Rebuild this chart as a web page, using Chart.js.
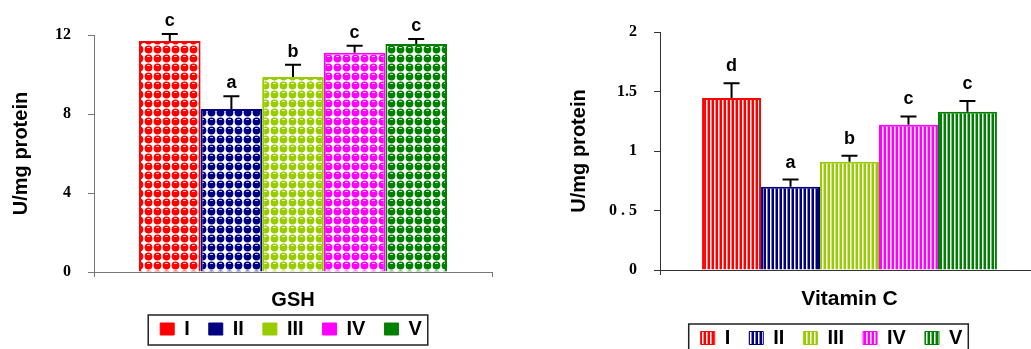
<!DOCTYPE html>
<html>
<head>
<meta charset="utf-8">
<script src="https://cdn.jsdelivr.net/npm/chart.js@4.4.0/dist/chart.umd.min.js"></script>
<style>
    html, body { margin: 0; padding: 0; background: #fff; overflow: hidden; width: 1031px; height: 349px; }
    #gshBox { position: absolute; left: 0; top: 0; width: 540px; height: 361px; }
    #vitBox { position: absolute; left: 540px; top: 0; width: 505px; height: 358px; }
</style>
</head>
<body>
<div id="gshBox"><canvas id="gshChart"></canvas></div>
<div id="vitBox"><canvas id="vitChart"></canvas></div>
<script>
/* ── data ── */
const groups  = ['I', 'II', 'III', 'IV', 'V'];
const colors  = ['#ff0000', '#000080', '#99cc00', '#ff00ff', '#008000'];

const gshCategory = ['GSH'];
const gshMean     = [11.7, 8.25, 9.87, 11.1, 11.55];
const gshErr      = [0.35, 0.65, 0.63, 0.35, 0.25];
const gshLetters  = ['c', 'a', 'b', 'c', 'c'];
const gshTicks    = [0, 4, 8, 12];

const vitCategory = ['Vitamin C'];
const vitMean     = [1.445, 0.70, 0.91, 1.22, 1.33];
const vitErr      = [0.125, 0.06, 0.05, 0.07, 0.09];
const vitLetters  = ['d', 'a', 'b', 'c', 'c'];
const vitTicks    = [0, 0.5, 1, 1.5, 2];
const vitTickText = ['0', '0 . 5', '1', '1.5', '2'];

const SANS  = 'Liberation Sans';
const SERIF = 'Liberation Serif';

/* ── fill patterns ── */
function dotPattern(color) {
    const c = document.createElement('canvas');
    c.width = 9; c.height = 9;
    const g = c.getContext('2d');
    g.fillStyle = '#fff'; g.fillRect(0, 0, 9, 9);
    g.fillStyle = color;
    g.beginPath(); g.arc(4.5, 4.5, 3.9, 0, Math.PI * 2); g.fill();
    g.fillStyle = 'rgba(255,255,255,0.75)'; g.fillRect(3, 2, 3, 1);
    return g.createPattern(c, 'repeat');
}
function stripePattern(color) {
    const c = document.createElement('canvas');
    c.width = 4; c.height = 4;
    const g = c.getContext('2d');
    g.fillStyle = color; g.fillRect(0, 0, 4, 4);
    g.fillStyle = '#fff'; g.fillRect(2, 0, 1, 4);
    g.fillStyle = 'rgba(255,255,255,0.5)'; g.fillRect(3, 0, 1, 4);
    return g.createPattern(c, 'repeat');
}

/* ── error bars, letters, legend frame ── */
const extras = {
    id: 'extras',
    afterLayout(chart, args, opts) {
        const lg = chart.legend;
        lg.left += opts.legendDx; lg.right += opts.legendDx;
        lg.top += opts.legendDy; lg.bottom += opts.legendDy;
    },
    afterDatasetsDraw(chart, args, opts) {
        const { ctx } = chart;
        const y = chart.scales.y;
        ctx.save();
        ctx.strokeStyle = '#000'; ctx.lineWidth = 2;
        ctx.fillStyle = '#000';
        ctx.font = `bold 18px "${SANS}"`;
        ctx.textAlign = 'center'; ctx.textBaseline = 'middle';
        chart.data.datasets.forEach((ds, i) => {
            const bar = chart.getDatasetMeta(i).data[0];
            const top = y.getPixelForValue(ds.data[0] + ds.errUp);
            ctx.beginPath();
            ctx.moveTo(bar.x, bar.y); ctx.lineTo(bar.x, top);
            ctx.moveTo(bar.x - 8, top); ctx.lineTo(bar.x + 8, top);
            ctx.stroke();
            ctx.fillText(ds.letter, bar.x, top - opts.letterGap);
        });
        ctx.restore();
    },
    afterDraw(chart, args, opts) {
        const hb = chart.legend.legendHitBoxes;
        if (!hb || !hb.length) return;
        const l = Math.min(...hb.map(h => h.left));
        const r = Math.max(...hb.map(h => h.left + h.width));
        const cy = hb[0].top + hb[0].height / 2;
        const { ctx } = chart;
        ctx.save();
        ctx.strokeStyle = '#222'; ctx.lineWidth = 1.5;
        ctx.strokeRect(l - 12, cy - 14, r - l + 18, 30);
        ctx.restore();
    }
};

function makeChart(id, cfg) {
    const datasets = groups.map((g, i) => ({
        label: g,
        data: [cfg.mean[i]],
        errUp: cfg.err[i],
        letter: cfg.letters[i],
        backgroundColor: cfg.pattern(colors[i]),
        borderColor: colors[i],
        borderWidth: 2,
        borderSkipped: 'start',
        categoryPercentage: cfg.catPct,
        barPercentage: 1
    }));

    return new Chart(document.getElementById(id).getContext('2d'), {
        type: 'bar',
        data: { labels: cfg.category, datasets },
        options: {
            responsive: true, maintainAspectRatio: false, animation: false,
            layout: { padding: cfg.padding },
            plugins: {
                tooltip: { enabled: false },
                legend: {
                    position: 'bottom', fullSize: false,
                    labels: {
                        boxWidth: 14, boxHeight: cfg.boxH, padding: 19, color: '#000',
                        font: { family: SANS, weight: 'bold', size: 20 },
                        generateLabels: ch => Chart.defaults.plugins.legend.labels.generateLabels(ch).map((it, i) => {
                            if (cfg.solidLegend) it.fillStyle = colors[i];
                            it.strokeStyle = colors[i]; it.lineWidth = 1;
                            return it;
                        })
                    }
                },
                extras: { legendDx: cfg.legendDx, legendDy: cfg.legendDy, letterGap: cfg.letterGap }
            },
            scales: {
                x: {
                    ticks: { color: '#000', padding: cfg.xPad, font: { family: SANS, weight: 'bold', size: cfg.xFont, lineHeight: 1 } },
                    grid: { drawOnChartArea: false, tickLength: 5, color: cfg.axisColor, offset: true },
                    border: { color: cfg.axisColor, width: 1 },
                    afterFit: s => { s.height = cfg.xH; }
                },
                y: {
                    min: cfg.ticks[0], max: cfg.ticks[cfg.ticks.length - 1],
                    afterBuildTicks: s => { s.ticks = cfg.ticks.map(v => ({ value: v })); },
                    ticks: {
                        color: '#000', padding: 17,
                        font: { family: SERIF, weight: 'bold', size: 16 },
                        callback: cfg.tickText
                    },
                    grid: { drawOnChartArea: false, tickLength: 6, color: cfg.axisColor },
                    border: { color: cfg.axisColor, width: 1 },
                    title: {
                        display: true, text: 'U/mg protein', color: '#000',
                        font: { family: SANS, weight: 'bold', size: 20 },
                        padding: { top: cfg.titlePad, bottom: 0 }
                    },
                    afterFit: s => { s.width = cfg.yW; }
                }
            }
        },
        plugins: [extras]
    });
}

makeChart('gshChart', {
    category: gshCategory, mean: gshMean, err: gshErr, letters: gshLetters,
    ticks: gshTicks, tickText: v => String(v),
    pattern: dotPattern, solidLegend: true, boxH: 12,
    catPct: 0.774, padding: { top: 35, right: 48, bottom: 0, left: 0 },
    yW: 94, titlePad: 9, xH: 40, xPad: 13, xFont: 20, legendDx: -2, legendDy: -12, letterGap: 13,
    axisColor: '#777'
});

makeChart('vitChart', {
    category: vitCategory, mean: vitMean, err: vitErr, letters: vitLetters,
    ticks: vitTicks, tickText: v => vitTickText[vitTicks.indexOf(v)],
    pattern: stripePattern, solidLegend: false, boxH: 13,
    catPct: 0.778, padding: { top: 32, right: 6, bottom: 0, left: 0 },
    yW: 120, titlePad: 27, xH: 39, xPad: 14, xFont: 21, legendDx: -18, legendDy: 0, letterGap: 17,
    axisColor: '#333'
});
</script>
</body>
</html>
